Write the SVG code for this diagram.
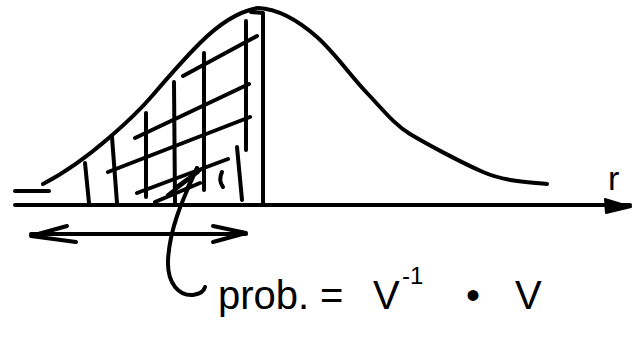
<svg xmlns="http://www.w3.org/2000/svg" width="633" height="343" viewBox="0 0 633 343">
<style>
.ink{fill:none;stroke:#000;stroke-width:4;stroke-linecap:round;stroke-linejoin:round}
.txt{font-family:"Liberation Sans","DejaVu Sans",sans-serif;fill:#000}
</style>
<rect width="633" height="343" fill="#fff"/>
<g id="axis">
<path class="ink" d="M15,205 L630,205"/>
<polygon points="605,199 606,213 631,207" fill="#000" stroke="#000" stroke-width="2" stroke-linejoin="round"/>
<text class="txt" x="608" y="190" font-size="34">r</text>
</g>
<g id="curve">
<path class="ink" d="M15,191 L49,191"/>
<path class="ink" d="M43,184 C70,170 95,150 110,137 S140,110 152,96 S185,58 200,43 S235,12 258,8 C280,9 300,22 317,37 S350,75 367,93 S395,125 410,134 S460,162 483,172 S530,182 547,184"/>
<path class="ink" d="M251,12 L263,13 L263,205"/>
</g>
<g id="hatching">
<path class="ink" d="M85,163 L89,203 M112,137 L117,203 M146,113 L146,197 M174,82 L175,203 M204,53 L204,190 M246,21 L246,150 M237,147 L242,200"/>
<path class="ink" d="M183,76 L257,36 M135,138 L249,84 M108,172 L250,117 M137,193 L228,159 M155,202 L200,183"/>
<path class="ink" d="M222,172 Q218,180 223,187"/>
<path class="ink" d="M168,195 L198,172 M175,188 L200,170 M186,191 L197,168"/>
</g>
<g id="range-arrow">
<path class="ink" d="M31,234 L246,234 M67,226 L31,236 L76,242 M213,226 L246,233 L213,242"/>
</g>
<g id="connectors">
<path class="ink" d="M197,168 C185,195 170,225 168,260 C167,285 180,296 193,295 C200,294 204,291 205,287"/>
</g>
<g id="label">
<text class="txt" y="309" font-size="40"><tspan x="218">prob.</tspan><tspan x="320">=</tspan><tspan x="373">V</tspan><tspan x="402" y="284" font-size="24">-1</tspan><tspan x="466" y="309">•</tspan><tspan x="515">V</tspan></text>
</g>
</svg>
